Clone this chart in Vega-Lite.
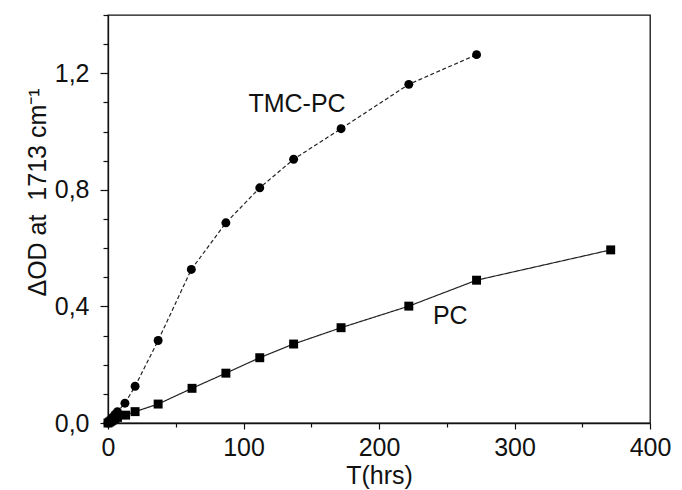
{
  "$schema": "https://vega.github.io/schema/vega-lite/v6.json",
  "autosize": "none",
  "width": 542,
  "height": 408,
  "padding": {"left": 108, "top": 15, "right": 32, "bottom": 67},
  "background": "white",
  "config": {
    "view": {"stroke": "#111", "strokeWidth": 1.3},
    "axis": {
      "grid": false,
      "domainColor": "#111",
      "domainWidth": 1.3,
      "tickColor": "#111",
      "tickWidth": 1.2,
      "labelFont": "Liberation Sans",
      "labelFontSize": 25,
      "labelColor": "#111",
      "titleFont": "Liberation Sans",
      "titleFontSize": 25,
      "titleFontWeight": "normal",
      "titleColor": "#111",
      "labelOverlap": false,
      "labelFlush": false
    }
  },
  "datasets": {
    "pts": [
      {"series": "TMC-PC", "T": 0, "OD": 0},
      {"series": "TMC-PC", "T": 1, "OD": 0.005},
      {"series": "TMC-PC", "T": 2, "OD": 0.011},
      {"series": "TMC-PC", "T": 3, "OD": 0.018},
      {"series": "TMC-PC", "T": 5, "OD": 0.029},
      {"series": "TMC-PC", "T": 7, "OD": 0.039},
      {"series": "TMC-PC", "T": 12.5, "OD": 0.068},
      {"series": "TMC-PC", "T": 20, "OD": 0.126},
      {"series": "TMC-PC", "T": 37, "OD": 0.283},
      {"series": "TMC-PC", "T": 61.5, "OD": 0.527},
      {"series": "TMC-PC", "T": 87, "OD": 0.687},
      {"series": "TMC-PC", "T": 112, "OD": 0.807},
      {"series": "TMC-PC", "T": 137, "OD": 0.905},
      {"series": "TMC-PC", "T": 172, "OD": 1.01},
      {"series": "TMC-PC", "T": 222, "OD": 1.162},
      {"series": "TMC-PC", "T": 272, "OD": 1.264},
      {"series": "PC", "T": 0, "OD": 0},
      {"series": "PC", "T": 1, "OD": 0.003},
      {"series": "PC", "T": 2, "OD": 0.006},
      {"series": "PC", "T": 3, "OD": 0.009},
      {"series": "PC", "T": 5, "OD": 0.014},
      {"series": "PC", "T": 7, "OD": 0.019},
      {"series": "PC", "T": 13, "OD": 0.027},
      {"series": "PC", "T": 20, "OD": 0.039},
      {"series": "PC", "T": 37, "OD": 0.065},
      {"series": "PC", "T": 62, "OD": 0.119},
      {"series": "PC", "T": 87, "OD": 0.171},
      {"series": "PC", "T": 112, "OD": 0.224},
      {"series": "PC", "T": 137, "OD": 0.271},
      {"series": "PC", "T": 172, "OD": 0.327},
      {"series": "PC", "T": 222, "OD": 0.401},
      {"series": "PC", "T": 272, "OD": 0.49},
      {"series": "PC", "T": 371, "OD": 0.594}
    ],
    "labels": [
      {"T": 139.5, "OD": 1.095, "text": "TMC-PC"},
      {"T": 252.6, "OD": 0.367, "text": "PC"}
    ]
  },
  "data": {"name": "pts"},
  "encoding": {
    "x": {
      "field": "T", "type": "quantitative",
      "scale": {"domain": [0, 400], "nice": false, "zero": false},
      "axis": {
        "title": "T(hrs)",
        "values": [0, 50, 100, 150, 200, 250, 300, 350, 400],
        "labelExpr": "datum.value % 100 == 0 ? datum.label : ''",
        "tickSize": {"condition": {"test": "datum.value % 100 == 0", "value": 6}, "value": 4},
        "labelPadding": 6,
        "titlePadding": 3
      }
    },
    "y": {
      "field": "OD", "type": "quantitative",
      "scale": {"domain": [0, 1.4], "nice": false, "zero": false},
      "axis": {
        "title": "ΔOD at\u00a0\u00a01713 cm⁻¹",
        "values": [0, 0.1, 0.2, 0.3, 0.4, 0.5, 0.6, 0.7, 0.8, 0.9, 1.0, 1.1, 1.2, 1.3, 1.4],
        "labelExpr": "round(datum.value*10) % 4 == 0 ? replace(format(datum.value, '.1f'), '.', ',') : ''",
        "tickSize": {"condition": {"test": "round(datum.value*10) % 4 == 0", "value": 8}, "value": 5},
        "labelPadding": 11,
        "titlePadding": 4,
        "titleY": 177
      }
    }
  },
  "layer": [
    {
      "mark": {"type": "line", "color": "#222", "strokeWidth": 1.2},
      "encoding": {
        "detail": {"field": "series"},
        "strokeDash": {
          "field": "series", "type": "nominal",
          "scale": {"domain": ["PC", "TMC-PC"], "range": [[1, 0], [4, 2.5]]},
          "legend": null
        }
      }
    },
    {
      "mark": {"type": "point", "filled": true, "color": "#000", "opacity": 1, "size": 80},
      "encoding": {
        "shape": {
          "field": "series", "type": "nominal",
          "scale": {"domain": ["PC", "TMC-PC"], "range": ["square", "circle"]},
          "legend": null
        }
      }
    },
    {
      "data": {"name": "labels"},
      "mark": {"type": "text", "font": "Liberation Sans", "fontSize": 25, "color": "#111", "baseline": "middle", "align": "center"},
      "encoding": {
        "text": {"field": "text"}
      }
    }
  ]
}
